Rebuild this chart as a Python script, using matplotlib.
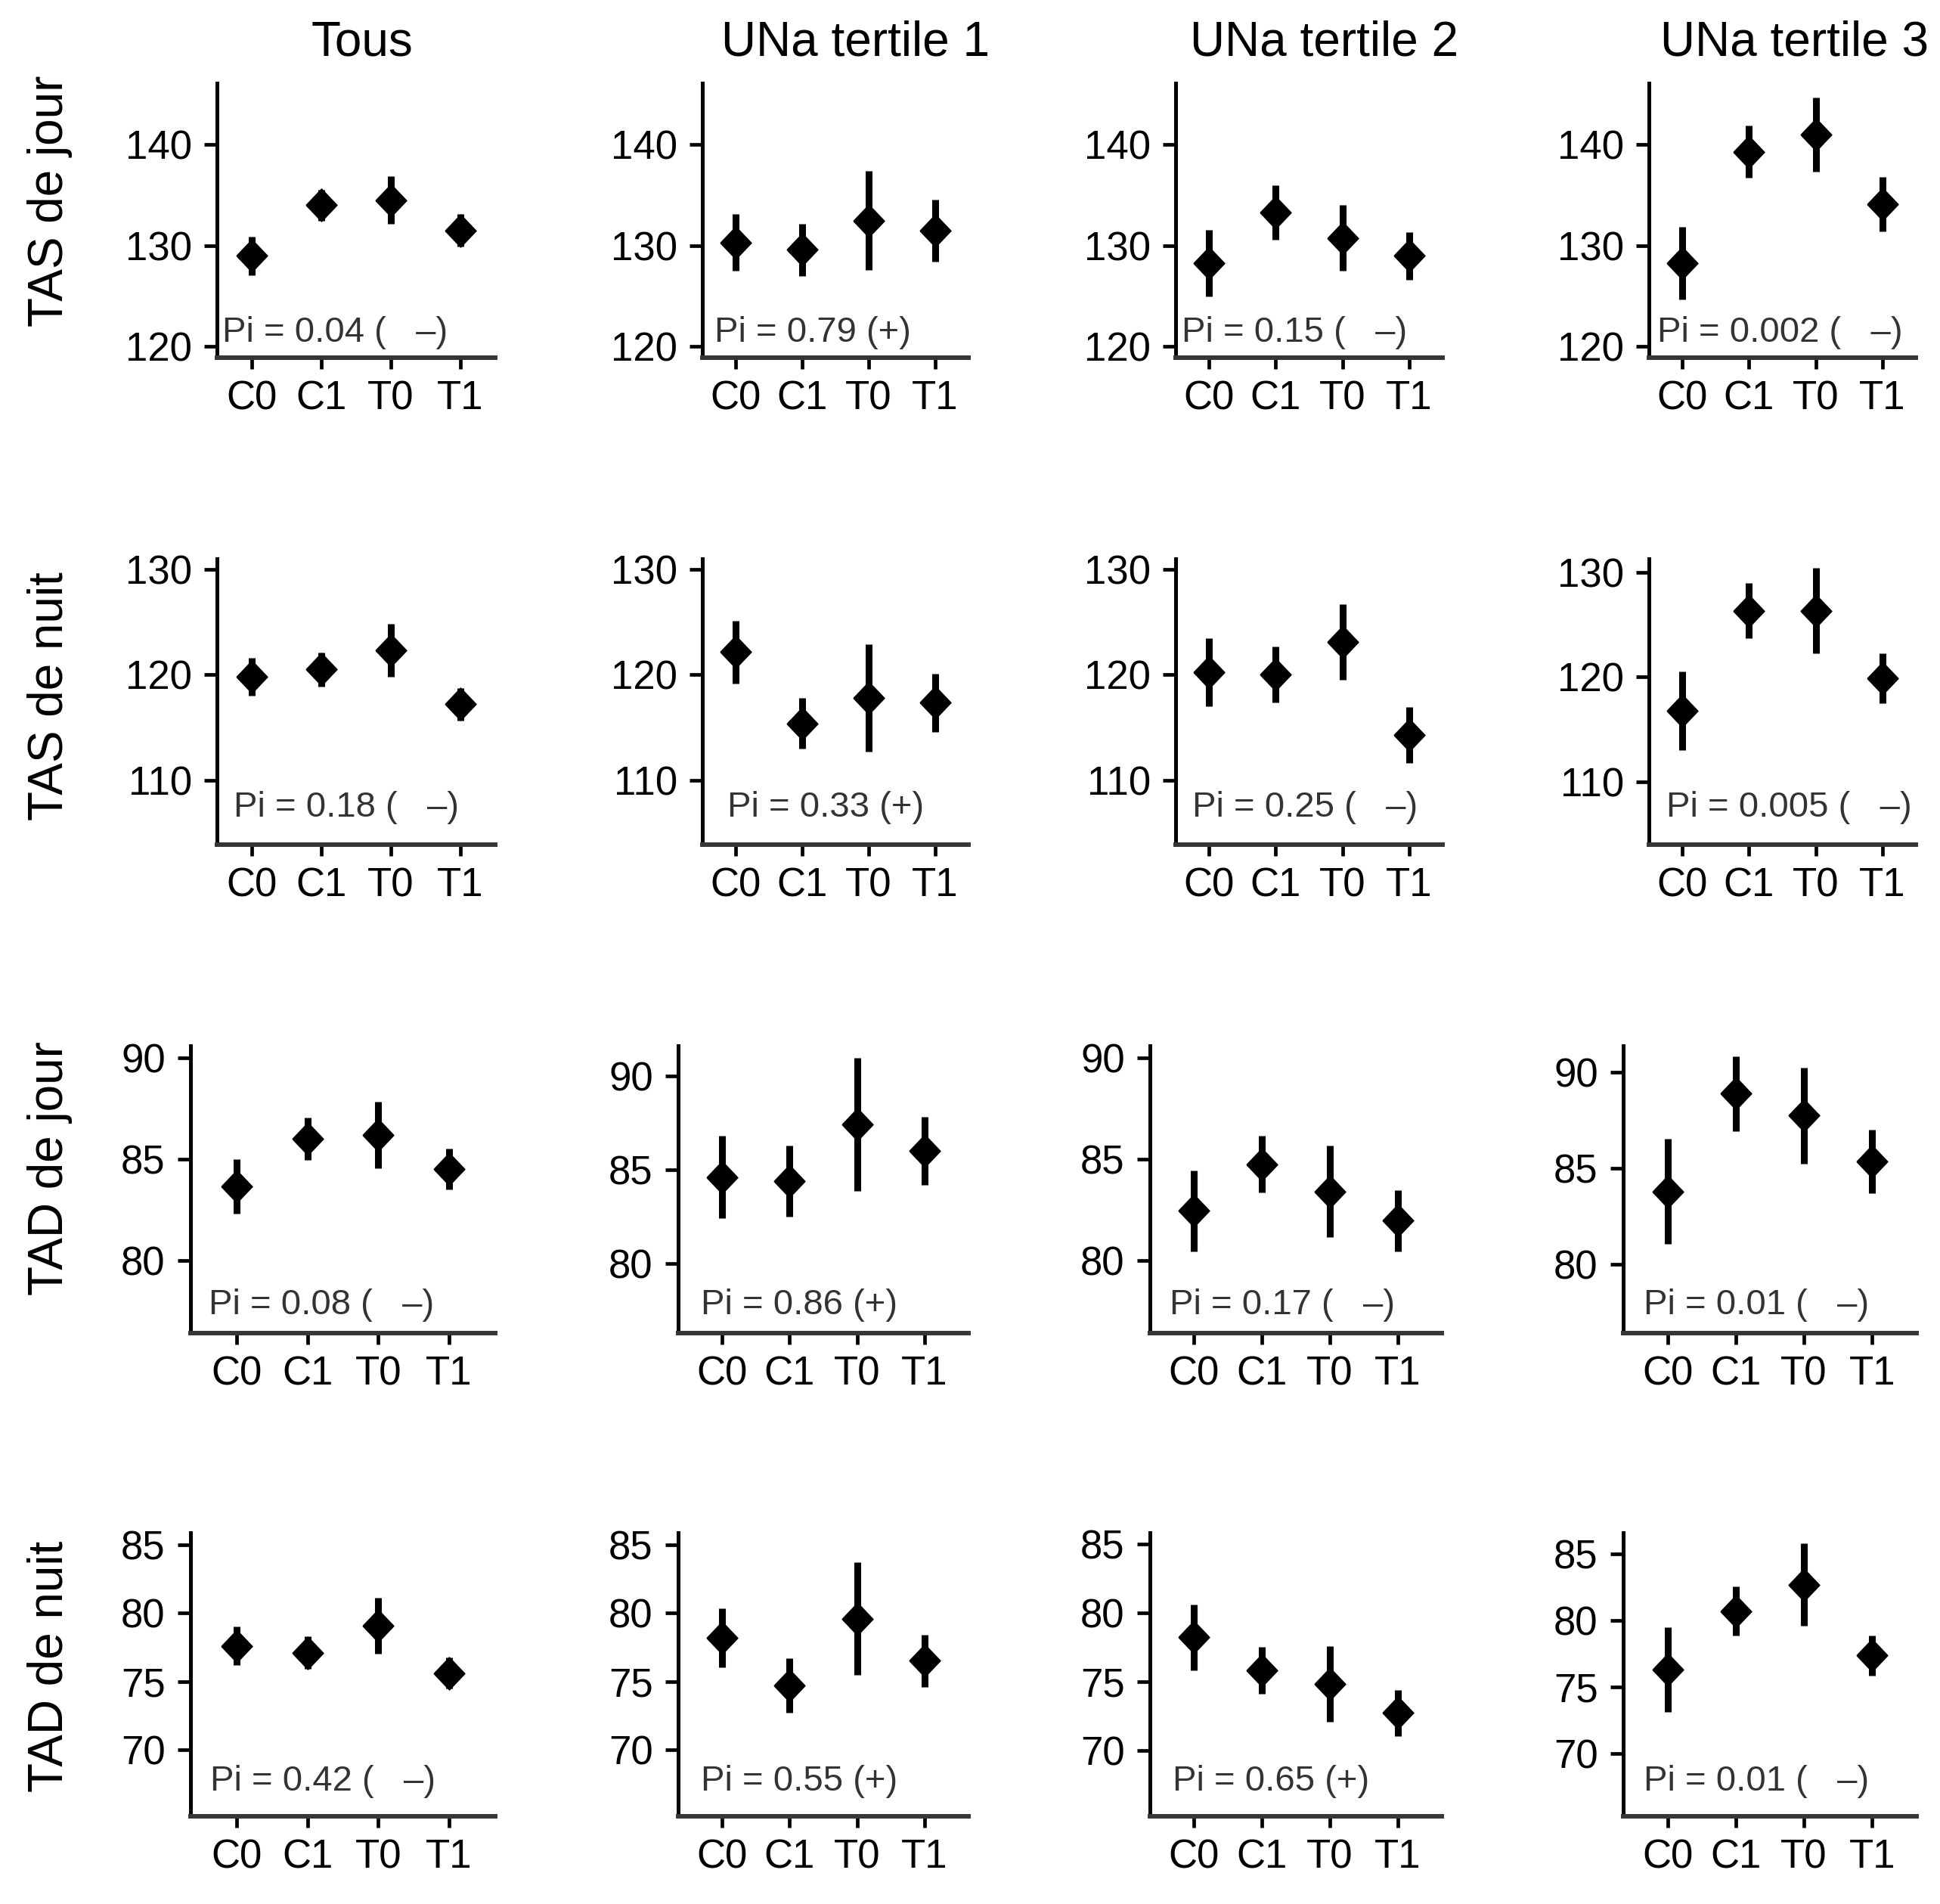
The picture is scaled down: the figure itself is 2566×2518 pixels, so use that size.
import matplotlib
matplotlib.use("Agg")
import matplotlib.pyplot as plt

plt.rcParams['font.family'] = ['Liberation Sans', 'DejaVu Sans']

#=== DONNEES ===
groupes = ["Tous", "UNa tertile 1", "UNa tertile 2", "UNa tertile 3"]
periodes = ["C0", "C1", "T0", "T1"]
variables = ["TAS de jour", "TAS de nuit", "TAD de jour", "TAD de nuit"]

# moyennes et demi-intervalles, une liste par groupe (Tous, T1, T2, T3)
tas_jour_moy = [[129.0, 134.0, 134.5, 131.5],
                [130.3, 129.6, 132.5, 131.5],
                [128.3, 133.3, 130.75, 129.0],
                [128.3, 139.3, 141.0, 134.1]]
tas_jour_err = [[1.9, 1.5, 2.35, 1.6],
                [2.8, 2.6, 4.9, 3.05],
                [3.3, 2.7, 3.25, 2.35],
                [3.6, 2.6, 3.7, 2.7]]

tas_nuit_moy = [[119.8, 120.5, 122.3, 117.2],
                [122.15, 115.4, 117.8, 117.35],
                [120.25, 120.0, 123.1, 114.3],
                [116.8, 126.35, 126.35, 119.9]]
tas_nuit_err = [[1.8, 1.6, 2.5, 1.55],
                [2.95, 2.4, 5.1, 2.75],
                [3.2, 2.65, 3.6, 2.65],
                [3.75, 2.65, 4.05, 2.4]]

tad_jour_moy = [[83.65, 86.0, 86.2, 84.5],
                [84.6, 84.4, 87.4, 86.0],
                [82.45, 84.75, 83.4, 81.95],
                [83.8, 88.9, 87.75, 85.35]]
tad_jour_err = [[1.35, 1.05, 1.65, 1.0],
                [2.2, 1.9, 3.55, 1.8],
                [2.0, 1.4, 2.25, 1.5],
                [2.75, 1.95, 2.5, 1.65]]

tad_nuit_moy = [[77.6, 77.1, 79.1, 75.6],
                [78.2, 74.7, 79.6, 76.5],
                [78.2, 75.8, 74.8, 72.7],
                [76.3, 80.7, 82.7, 77.35]]
tad_nuit_err = [[1.4, 1.2, 2.05, 1.15],
                [2.15, 2.0, 4.15, 1.9],
                [2.4, 1.7, 2.75, 1.65],
                [3.2, 1.85, 3.1, 1.5]]

pi_textes = [["Pi = 0.04 (   \u2013)", "Pi = 0.79 (+)", "Pi = 0.15 (   \u2013)", "Pi = 0.002 (   \u2013)"],
             ["Pi = 0.18 (   \u2013)", "Pi = 0.33 (+)", "Pi = 0.25 (   \u2013)", "Pi = 0.005 (   \u2013)"],
             ["Pi = 0.08 (   \u2013)", "Pi = 0.86 (+)", "Pi = 0.17 (   \u2013)", "Pi = 0.01 (   \u2013)"],
             ["Pi = 0.42 (   \u2013)", "Pi = 0.55 (+)", "Pi = 0.65 (+)", "Pi = 0.01 (   \u2013)"]]

yticks = [[120, 130, 140], [110, 120, 130], [80, 85, 90], [70, 75, 80, 85]]

moyennes = [tas_jour_moy, tas_nuit_moy, tad_jour_moy, tad_nuit_moy]
erreurs = [tas_jour_err, tas_nuit_err, tad_jour_err, tad_nuit_err]

#=== MISE EN PAGE (pixels de l'image) ===
W, H = 2566, 2518
lignes = [(110, 473), (739, 1117), (1383, 1763), (2027, 2402)]
cols_haut = [(287, 655), (929, 1281), (1555, 1908), (2181, 2534)]
cols_bas = [(252, 655), (897, 1281), (1521, 1907), (2147, 2535)]
ylims = [[(118.9, 146.1)] * 4,
         [(103.9, 131.0), (103.9, 131.0), (103.9, 131.0), (104.0, 131.3)],
         [(76.4, 90.6), (76.3, 91.6), (76.4, 90.6), (76.4, 91.4)],
         [(65.1, 85.9), (65.1, 85.9), (65.2, 85.8), (65.25, 86.6)]]
pi_x = [[0.02, 0.045, 0.023, 0.03],
        [0.06, 0.094, 0.062, 0.065],
        [0.06, 0.078, 0.067, 0.07],
        [0.064, 0.078, 0.078, 0.07]]
pi_y = [0.058, 0.098, 0.066, 0.09]
ylab_y = [266, 921, 1545, 2204]
titre_x = [479, 1131, 1752, 2374]

losange = [(-1.0, 0.0), (0.0, 1.05), (1.0, 0.0), (0.0, -1.05), (-1.0, 0.0)]

fig = plt.figure(figsize=(W / 100, H / 100), dpi=100)
x = [1, 2, 3, 4]

for i in range(4):
    top, bot = lignes[i]
    cols = cols_haut if i < 2 else cols_bas
    for j in range(4):
        l, r = cols[j]
        ax = fig.add_axes([l / W, 1 - bot / H, (r - l) / W, (bot - top) / H])
        ax.errorbar(x, moyennes[i][j], yerr=erreurs[i][j], fmt='none',
                    ecolor='black', elinewidth=6.5, capsize=0)
        ax.plot(x, moyennes[i][j], linestyle='none', marker=losange,
                markersize=31, color='black')
        ax.set_ylim(*ylims[i][j])
        if i < 2:
            ax.set_xlim(0.5, 4.5)
        else:
            ax.set_xlim(0.35, 4.65)
        ax.set_xticks(x)
        ax.set_xticklabels(periodes)
        ax.set_yticks(yticks[i])
        ax.spines['top'].set_visible(False)
        ax.spines['right'].set_visible(False)
        ax.spines['left'].set_linewidth(3.6)
        ax.spines['left'].set_color('black')
        ax.spines['bottom'].set_linewidth(4.3)
        ax.spines['bottom'].set_color('#3a3535')
        ax.tick_params(axis='y', length=12, width=3.4, labelsize=38, pad=12)
        ax.tick_params(axis='x', length=11, width=3.4, labelsize=38, pad=10)
        ax.text(pi_x[i][j], pi_y[i], pi_textes[i][j], transform=ax.transAxes,
                fontsize=34, color='#333333', ha='left', va='baseline')
    fig.text(66 / W, 1 - ylab_y[i] / H, variables[i], rotation=90,
             fontsize=46, ha='center', va='center')

for j in range(4):
    fig.text(titre_x[j] / W, 1 - 57 / H, groupes[j], fontsize=46,
             ha='center', va='center')

plt.savefig("out.png", dpi=100)
